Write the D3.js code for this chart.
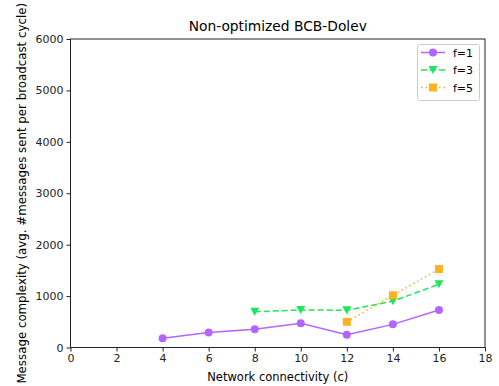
<!DOCTYPE html>
<html>
<head>
<meta charset="utf-8">
<script src="https://cdn.jsdelivr.net/npm/d3@7"></script>
<style>
  body { margin: 0; background: #fff; }
  svg text { font-family: "DejaVu Sans", sans-serif; }
</style>
</head>
<body>
<svg id="chart" width="499" height="386"></svg>
<script>
var xTicks = [0, 2, 4, 6, 8, 10, 12, 14, 16, 18];
var yTicks = [0, 1000, 2000, 3000, 4000, 5000, 6000];

var c_f1 = [4, 6, 8, 10, 12, 14, 16];
var msg_f1 = [180, 290, 355, 470, 250, 450, 730];
var c_f3 = [8, 10, 12, 14, 16];
var msg_f3 = [695, 730, 725, 900, 1230];
var c_f5 = [12, 14, 16];
var msg_f5 = [500, 1015, 1525];

var seriesNames = ["f=1", "f=3", "f=5"];
var colors = ["#b266ff", "#1ee65a", "#ffb21f"];

function draw_lineplot() {
    var svg = d3.select("svg");
    var margin = { top: 39, right: 14, bottom: 38.5, left: 70.5 };
    var width = +svg.attr("width") - margin.left - margin.right;
    var height = +svg.attr("height") - margin.top - margin.bottom;

    var x = d3.scaleLinear().range([0, width]).domain([0, 18]);
    var y = d3.scaleLinear().range([height, 0]).domain([0, 6000]);

    var g = svg.append("g")
        .attr("transform", "translate(" + margin.left + "," + margin.top + ")");

    var xAxis = g.append("g")
        .attr("transform", "translate(0," + height + ")")
        .call(d3.axisBottom(x).tickValues(xTicks).tickFormat(d3.format("d"))
            .tickSizeOuter(0).tickSize(4).tickPadding(3));
    var yAxis = g.append("g")
        .call(d3.axisLeft(y).tickValues(yTicks).tickFormat(d3.format("d"))
            .tickSizeOuter(0).tickSize(4).tickPadding(3));

    [xAxis, yAxis].forEach(function (a) {
        a.select(".domain").remove();
        a.selectAll("text").style("font-size", "11px").attr("fill", "#222");
        a.selectAll("line").attr("stroke", "#222");
    });

    // frame
    g.append("rect")
        .attr("width", width).attr("height", height)
        .attr("fill", "none").attr("stroke", "#222").attr("stroke-width", 1);

    svg.append("text")
        .attr("x", margin.left + width / 2).attr("y", 31)
        .attr("text-anchor", "middle").style("font-size", "13.8px")
        .text("Non-optimized BCB-Dolev");

    svg.append("text")
        .attr("x", margin.left + width / 2).attr("y", 381)
        .attr("text-anchor", "middle").style("font-size", "11.5px")
        .text("Network connectivity (c)");

    svg.append("text")
        .attr("transform", "translate(26," + (margin.top + height / 2) + ") rotate(-90)")
        .attr("text-anchor", "middle").style("font-size", "11.8px")
        .text("Message complexity (avg. #messages sent per broadcast cycle)");

    var series = [
        { xs: c_f1, ys: msg_f1, dash: null, marker: "circle" },
        { xs: c_f3, ys: msg_f3, dash: "6,3", marker: "tri" },
        { xs: c_f5, ys: msg_f5, dash: "1.5,3", marker: "square" }
    ];

    var line = d3.line()
        .x(function (d) { return x(d[0]); })
        .y(function (d) { return y(d[1]); });

    function addMarker(sel, kind, color) {
        if (kind === "circle") {
            sel.append("circle").attr("r", 4).attr("fill", color);
        } else if (kind === "tri") {
            sel.append("path").attr("d", "M-4.5,-4 L4.5,-4 L0,4 Z").attr("fill", color);
        } else {
            sel.append("rect").attr("x", -4).attr("y", -4).attr("width", 8).attr("height", 8).attr("fill", color);
        }
    }

    series.forEach(function (s, i) {
        var pts = s.xs.map(function (d, j) { return [d, s.ys[j]]; });
        g.append("path")
            .datum(pts)
            .attr("fill", "none")
            .attr("stroke", colors[i])
            .attr("stroke-width", 1.5)
            .attr("stroke-dasharray", s.dash)
            .attr("d", line);
        pts.forEach(function (p) {
            var m = g.append("g").attr("transform", "translate(" + x(p[0]) + "," + y(p[1]) + ")");
            addMarker(m, s.marker, colors[i]);
        });
    });

    // legend
    var lg = svg.append("g");
    lg.append("rect")
        .attr("x", 417.5).attr("y", 44.5).attr("width", 62).attr("height", 56)
        .attr("rx", 2).attr("fill", "#fff").attr("stroke", "#ccc");
    series.forEach(function (s, i) {
        var yy = 52.5 + i * 17.5;
        lg.append("line")
            .attr("x1", 421).attr("x2", 445).attr("y1", yy).attr("y2", yy)
            .attr("stroke", colors[i]).attr("stroke-width", 1.5)
            .attr("stroke-dasharray", s.dash);
        var m = lg.append("g").attr("transform", "translate(433," + yy + ")");
        addMarker(m, s.marker, colors[i]);
        lg.append("text")
            .attr("x", 453).attr("y", yy + 4)
            .style("font-size", "11px").text(seriesNames[i]);
    });
}

draw_lineplot();
</script>
</body>
</html>
